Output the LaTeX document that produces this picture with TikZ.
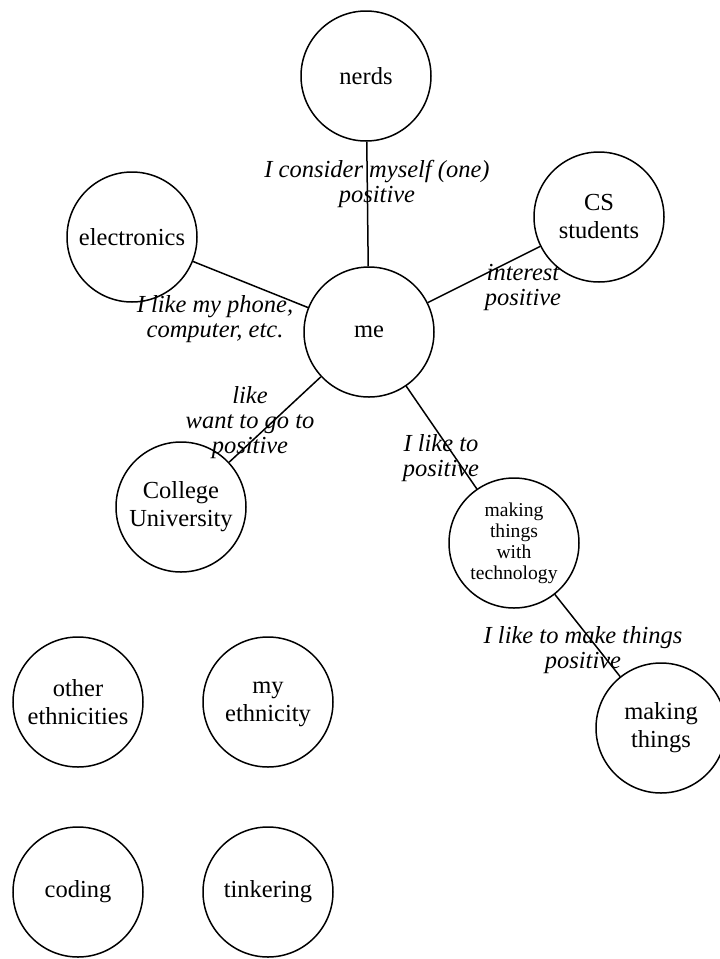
\documentclass[tikz,border=0pt]{standalone}
\usepackage{fontspec}
\setmainfont{Liberation Serif}
\begin{document}
\begin{tikzpicture}[x=1pt,y=-1pt,
  topic/.style={circle, draw, line width=1.5pt, minimum size=130pt, inner sep=0pt,
    align=center, font=\fontsize{24.5}{28}\selectfont},
  smalltopic/.style={topic, font=\fontsize{19.6}{21}\selectfont},
  link/.style={line width=1.5pt},
  lbl/.style={align=center, inner sep=0pt, font=\fontsize{24.5}{25}\selectfont\itshape}]
\useasboundingbox (0,0) rectangle (720,959);
\clip (0,0) rectangle (720,959);

% concept nodes
\node[topic] (nerds) at (366,76) {nerds};
\node[topic] (cs) at (599,217) {CS\\students};
\node[topic] (elec) at (132,237) {electronics};
\node[topic] (me) at (369,332) {me};
\node[topic] (college) at (181,507) {College\\University};
\node[smalltopic] (mtech) at (514,543) {making\\things\\with\\technology};
\node[topic] (making) at (661,728) {making\\things};
\node[topic] (other) at (78,702) {other\\ethnicities};
\node[topic] (myeth) at (268,702) {\vphantom{h}my\\ethnicity};
\node[topic] (coding) at (78,892) {coding};
\node[topic] (tinker) at (268,892) {tinkering};

% relations
\draw[link] (nerds) -- (me);
\draw[link] (elec) -- (me);
\draw[link] (cs) -- (me);
\draw[link] (college) -- (me);
\draw[link] (mtech) -- (me);
\draw[link] (mtech) -- (making);

% relation labels
\node[lbl] (l1) at (377,184) {I consider myself (one)\\positive};
\node[lbl] (l2) at (215,319) {I like my phone,\\computer, etc.};
\node[lbl] (l3) at (523,287) {interest\\positive};
\node[lbl] (l4) at (250,423) {like\\want to go to\\positive};
\node[lbl] (l5) at (441,458) {I like to\\positive};
\node[lbl] (l6) at (583,650) {I like to make things\\positive};
\end{tikzpicture}
\end{document}
